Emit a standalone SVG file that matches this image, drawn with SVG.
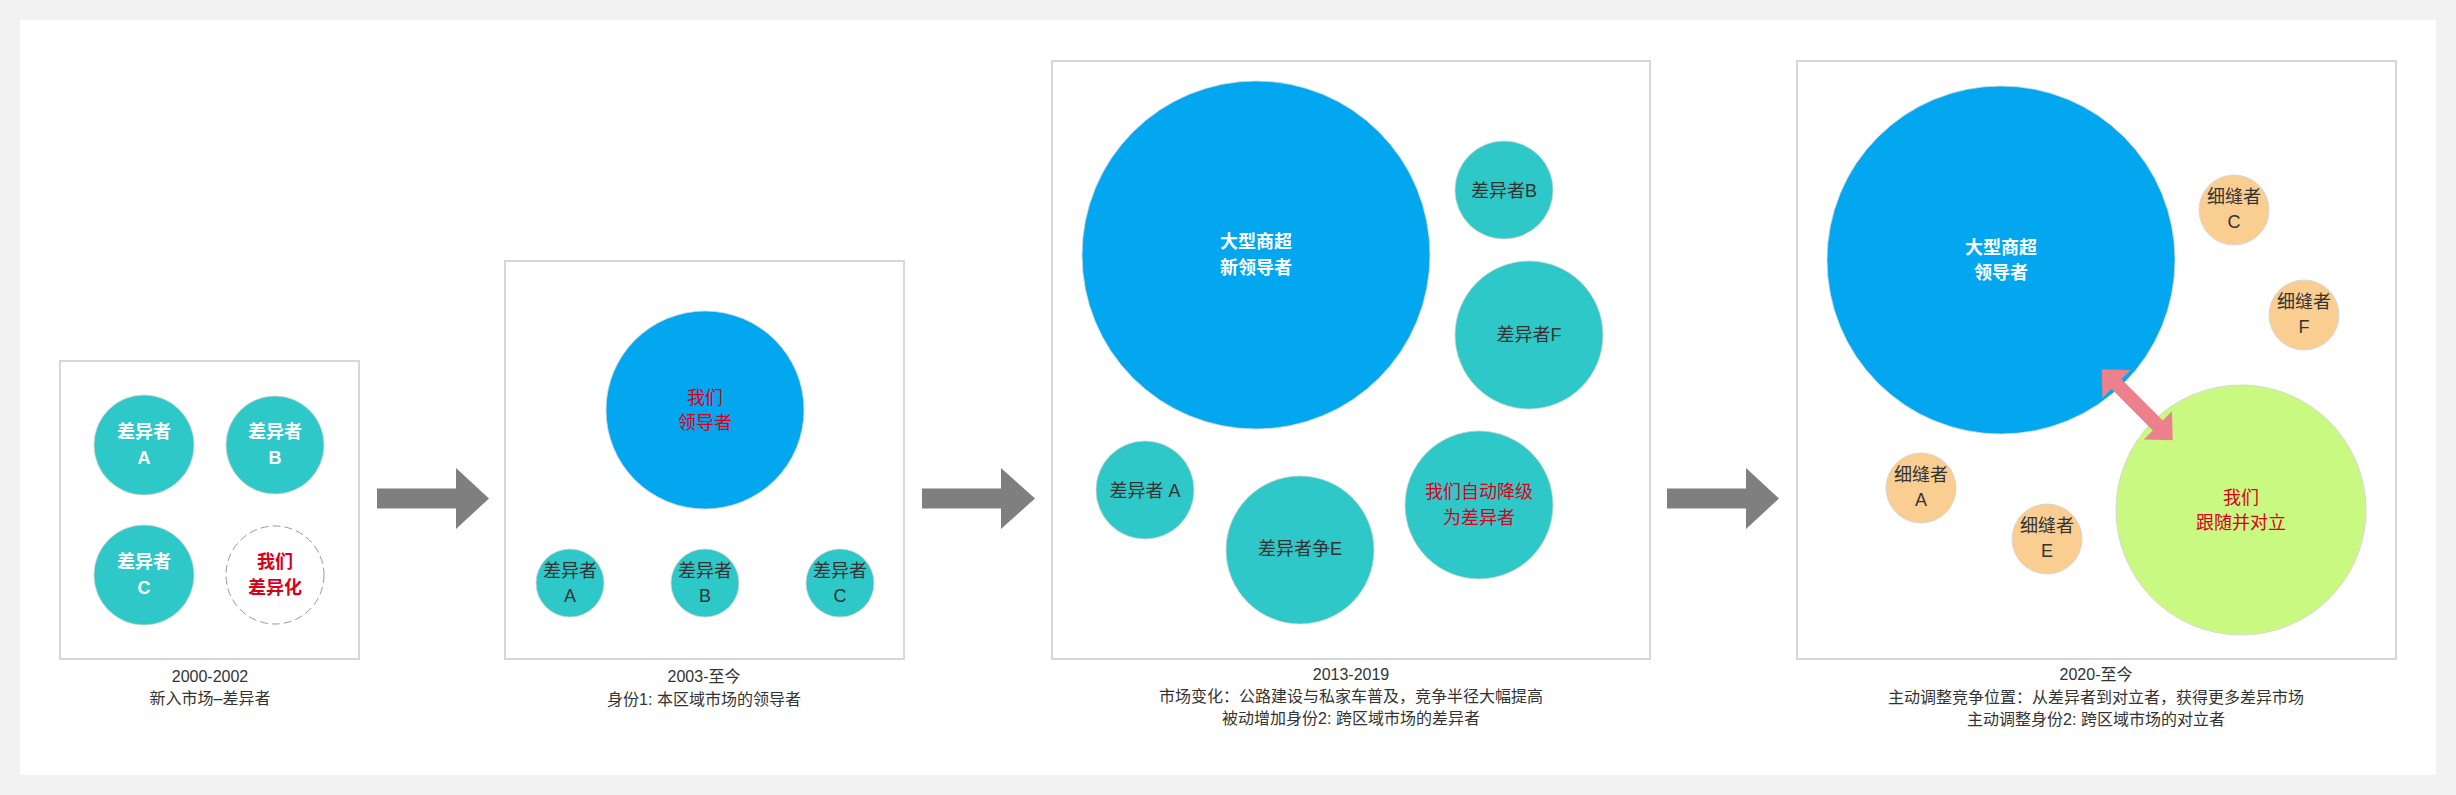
<svg xmlns="http://www.w3.org/2000/svg" width="2456" height="795" viewBox="0 0 2456 795">
<style>
text{font-family:"Liberation Sans","Noto Sans CJK SC",sans-serif;text-anchor:middle;dominant-baseline:central}
.frame{fill:#fff;stroke:#d7d7d7;stroke-width:2}
.teal{fill:#2ec8c9;stroke:#d0d0d0;stroke-width:0.8}
.blue{fill:#02a7f0;stroke:#cfd8dc;stroke-width:0.8}
.orange{fill:#facd91;stroke:#d7d7d7;stroke-width:1}
.green{fill:#caf982;stroke:#d7d7d7;stroke-width:1}
.t18{font-size:18px}
.w{fill:#fff;font-weight:bold}
.d{fill:#333}
.r{fill:#d9001b}
.b{font-weight:bold}
.cap{font-size:16px;fill:#333}
.arr{fill:#7f7f7f}
</style>
<rect x="0" y="0" width="2456" height="795" fill="#f2f2f2"/>
<rect x="20" y="20" width="2416" height="755" fill="#fff"/>

<g id="panel1">
<rect class="frame" x="60" y="361" width="299" height="298"/>
<g id="p1-a"><circle class="teal" cx="144" cy="445" r="50"/><text class="t18 w" x="144" y="432">差异者</text><text class="t18 w" x="144" y="458">A</text></g>
<g id="p1-b"><circle class="teal" cx="275" cy="445" r="49"/><text class="t18 w" x="275" y="432">差异者</text><text class="t18 w" x="275" y="458">B</text></g>
<g id="p1-c"><circle class="teal" cx="144" cy="575" r="50"/><text class="t18 w" x="144" y="562">差异者</text><text class="t18 w" x="144" y="588">C</text></g>
<g id="p1-we"><circle cx="275" cy="575" r="49" fill="#fff" stroke="#9a9a9a" stroke-width="1" stroke-dasharray="8 4"/><text class="t18 r b" x="275" y="562">我们</text><text class="t18 r b" x="275" y="588">差异化</text></g>
<g id="p1-cap"><text class="cap" x="210" y="676">2000-2002</text><text class="cap" x="210" y="698">新入市场–差异者</text></g>
</g>

<g id="panel2">
<rect class="frame" x="505" y="261" width="399" height="398"/>
<g id="p2-we"><circle class="blue" cx="705" cy="410" r="99"/><text class="t18 r" x="705" y="398">我们</text><text class="t18 r" x="705" y="423">领导者</text></g>
<g id="p2-a"><circle class="teal" cx="570" cy="583" r="34"/><text class="t18 d" x="570" y="571">差异者</text><text class="t18 d" x="570" y="596">A</text></g>
<g id="p2-b"><circle class="teal" cx="705" cy="583" r="34"/><text class="t18 d" x="705" y="571">差异者</text><text class="t18 d" x="705" y="596">B</text></g>
<g id="p2-c"><circle class="teal" cx="840" cy="583" r="34"/><text class="t18 d" x="840" y="571">差异者</text><text class="t18 d" x="840" y="596">C</text></g>
<g id="p2-cap"><text class="cap" x="704" y="676">2003-至今</text><text class="cap" x="704" y="699">身份1: 本区域市场的领导者</text></g>
</g>

<g id="panel3">
<rect class="frame" x="1052" y="61" width="598" height="598"/>
<g id="p3-leader"><circle class="blue" cx="1256" cy="255" r="174"/><text class="t18 w" x="1256" y="242">大型商超</text><text class="t18 w" x="1256" y="268">新领导者</text></g>
<g id="p3-b"><circle class="teal" cx="1504" cy="190" r="49"/><text class="t18 d" x="1504" y="191">差异者B</text></g>
<g id="p3-f"><circle class="teal" cx="1529" cy="335" r="74"/><text class="t18 d" x="1529" y="335">差异者F</text></g>
<g id="p3-a"><circle class="teal" cx="1145" cy="490" r="49"/><text class="t18 d" x="1145" y="491">差异者 A</text></g>
<g id="p3-e"><circle class="teal" cx="1300" cy="550" r="74"/><text class="t18 d" x="1300" y="549">差异者争E</text></g>
<g id="p3-we"><circle class="teal" cx="1479" cy="505" r="74"/><text class="t18 r" x="1479" y="492">我们自动降级</text><text class="t18 r" x="1479" y="518">为差异者</text></g>
<g id="p3-cap"><text class="cap" x="1351" y="674">2013-2019</text><text class="cap" x="1351" y="696">市场变化：公路建设与私家车普及，竞争半径大幅提高</text><text class="cap" x="1351" y="718">被动增加身份2: 跨区域市场的差异者</text></g>
</g>

<g id="panel4">
<rect class="frame" x="1797" y="61" width="599" height="598"/>
<g id="p4-leader"><circle class="blue" cx="2001" cy="260" r="174"/><text class="t18 w" x="2001" y="248">大型商超</text><text class="t18 w" x="2001" y="273">领导者</text></g>
<g id="p4-we"><circle class="green" cx="2241" cy="510" r="125"/><text class="t18 r" x="2241" y="498">我们</text><text class="t18 r" x="2241" y="523">跟随并对立</text></g>
<g id="p4-c"><circle class="orange" cx="2234" cy="210" r="35"/><text class="t18 d" x="2234" y="197">细缝者</text><text class="t18 d" x="2234" y="222">C</text></g>
<g id="p4-f"><circle class="orange" cx="2304" cy="315" r="35"/><text class="t18 d" x="2304" y="302">细缝者</text><text class="t18 d" x="2304" y="327">F</text></g>
<g id="p4-a"><circle class="orange" cx="1921" cy="488" r="35"/><text class="t18 d" x="1921" y="475">细缝者</text><text class="t18 d" x="1921" y="500">A</text></g>
<g id="p4-e"><circle class="orange" cx="2047" cy="539" r="35"/><text class="t18 d" x="2047" y="526">细缝者</text><text class="t18 d" x="2047" y="551">E</text></g>
<g id="p4-cap"><text class="cap" x="2096" y="674">2020-至今</text><text class="cap" x="2096" y="697">主动调整竞争位置：从差异者到对立者，获得更多差异市场</text><text class="cap" x="2096" y="719">主动调整身份2: 跨区域市场的对立者</text></g>
</g>

<g id="connectors">
<polygon class="arr" points="377,488.5 456,488.5 456,468 489,498.5 456,529 456,508.5 377,508.5"/>
<polygon class="arr" points="922,488.5 1001,488.5 1001,468 1035,498.5 1001,529 1001,508.5 922,508.5"/>
<polygon class="arr" points="1667,488.5 1746,488.5 1746,468 1779,498.5 1746,529 1746,508.5 1667,508.5"/>
<polygon fill="#ec808d" transform="translate(2101.7,369.3) rotate(45)" points="0,0 21,-20 21,-7 79.4,-7 79.4,-20 100.4,0 79.4,20 79.4,7 21,7 21,20"/>
</g>
</svg>
